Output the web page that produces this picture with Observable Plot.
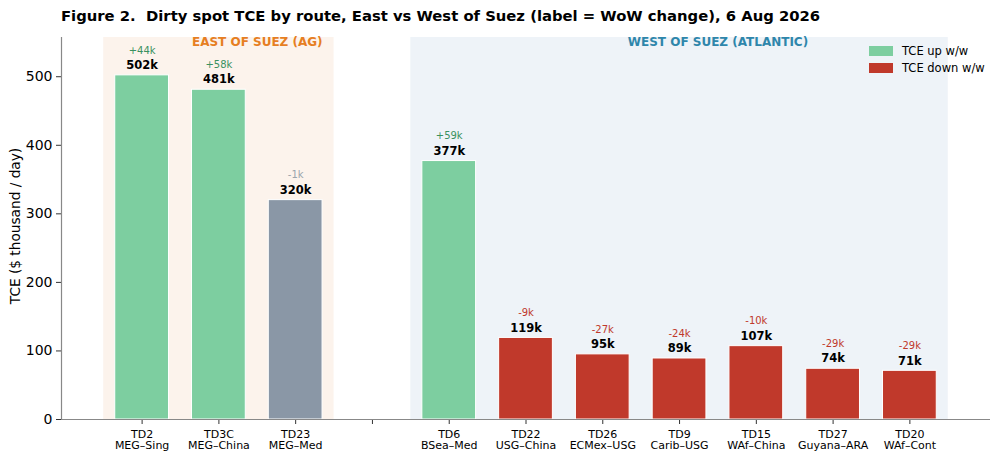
<!DOCTYPE html>
<html><head><meta charset="utf-8">
<script src="https://cdn.jsdelivr.net/npm/d3@7"></script>
<script src="https://cdn.jsdelivr.net/npm/@observablehq/plot@0.6"></script>
<style>
body{margin:0;background:#fff;font-family:"DejaVu Sans",sans-serif;color:#000}
#wrap{position:relative;width:1000px;height:462px;overflow:hidden}
#title{position:absolute;left:61px;top:7px;font-weight:bold;font-size:14.8px;white-space:nowrap}
#chart{position:absolute;left:0;top:30px}
#ylab{position:absolute;left:15px;top:226px;transform:translate(-50%,-50%) rotate(-90deg);font-size:13.7px;white-space:nowrap}
#legend{position:absolute;left:869px;top:42px;font-size:11.5px}
.li{display:flex;align-items:center;height:17px}
.sw{width:24px;height:10px;margin-right:9px}
</style></head>
<body>
<div id="wrap">
  <div id="title">Figure 2.&nbsp; Dirty spot TCE by route, East vs West of Suez (label = WoW change), 6 Aug 2026</div>
  <div id="chart"></div>
  <div id="ylab">TCE ($ thousand / day)</div>
  <div id="legend"></div>
</div>
<script>
// ---- data ----
const slots = ["TD2","TD3C","TD23","","TD6","TD22","TD26","TD9","TD15","TD27","TD20"];
const lanes = ["MEG–Sing","MEG–China","MEG–Med","","BSea–Med","USG–China","ECMex–USG","Carib–USG","WAf–China","Guyana–ARA","WAf–Cont"];
const tce   = [502, 481, 320, null, 377, 119, 95, 89, 107, 74, 71];
const wow   = [44, 58, -1, null, 59, -9, -27, -24, -10, -29, -29];
const regionNames = ["EAST OF SUEZ (AG)", "WEST OF SUEZ (ATLANTIC)"];
const regionFirst = ["TD2", "TD6"];
const regionLast  = ["TD23", "TD20"];
const yTicks = [0, 100, 200, 300, 400, 500];
const legendLabels = ["TCE up w/w", "TCE down w/w"];

// ---- styles ----
const barColor = {up:"#7dcea0", down:"#c0392b", flat:"#8a97a6"};
const wowColor = {up:"#3a9160", down:"#c0392b", flat:"#9aa5ad"};
const regionBg = ["#fcf3ec", "#eef3f8"];
const regionFg = ["#e67e22", "#2e86ab"];

const rows = slots.map((s,i)=>({i, route:s, lane:lanes[i], tce:tce[i], wow:wow[i]}))
  .filter(d=>d.tce!=null)
  .map(d=>({...d, trend: Math.abs(d.wow) <= 2 ? "flat" : d.wow > 0 ? "up" : "down"}));

const regions = regionNames.map((name,k)=>({
  name, start: slots.indexOf(regionFirst[k]), end: slots.indexOf(regionLast[k]), bg: regionBg[k], fg: regionFg[k]
}));

const yMax = d3.max(tce) * 1.11;
const xMin = -0.5 - 0.05 * slots.length, xMax = slots.length - 0.5 + 0.05 * slots.length;

const chart = Plot.plot({
  width: 1000, height: 432,
  marginTop: 7, marginLeft: 61, marginRight: 10, marginBottom: 43,
  style: {fontFamily: "DejaVu Sans, sans-serif", background: "transparent", color: "#000"},
  x: {domain: [xMin, xMax], axis: null},
  y: {domain: [0, yMax], axis: null},
  marks: [
    Plot.rect(regions, {x1: d=>d.start-0.5, x2: d=>d.end+0.5, y1: 0, y2: yMax, fill: d=>d.bg}),
    Plot.text(regions, {x: d=>(d.start+d.end)/2+0.5, y: yMax, text: "name", fill: d=>d.fg,
      fontWeight: "bold", fontSize: 12, lineAnchor: "top", dy: 0}),
    Plot.rect(rows, {x1: d=>d.i-0.35, x2: d=>d.i+0.35, y1: 0, y2: "tce",
      fill: d=>barColor[d.trend], stroke: "white", strokeWidth: 1}),
    Plot.text(rows, {x: "i", y: "tce", text: d=>d.tce+"k", dy: -10, fontWeight: "bold", fontSize: 11.5}),
    Plot.text(rows, {x: "i", y: "tce", text: d=>(d.wow>0?"+":"")+d.wow+"k", dy: -25, fontSize: 10, fill: d=>wowColor[d.trend]}),
    Plot.axisX({ticks: d3.range(slots.length), tickFormat: i => slots[i] ? slots[i]+"\n"+lanes[i] : "",
      tickSize: 5, tickPadding: 6, fontSize: 11, stroke: "#333", label: null}),
    Plot.axisY({ticks: yTicks, tickSize: 5, tickPadding: 4, fontSize: 14, stroke: "#333", label: null}),
    Plot.ruleX([xMin], {stroke: "#888", strokeWidth: 1.2}),
    Plot.ruleY([0], {stroke: "#888", strokeWidth: 1.2})
  ]
});
document.getElementById("chart").appendChild(chart);

const lg = document.getElementById("legend");
[barColor.up, barColor.down].forEach((c,k)=>{
  const row = document.createElement("div"); row.className = "li";
  row.innerHTML = `<div class="sw" style="background:${c}"></div><span>${legendLabels[k]}</span>`;
  lg.appendChild(row);
});
</script>
</body></html>
